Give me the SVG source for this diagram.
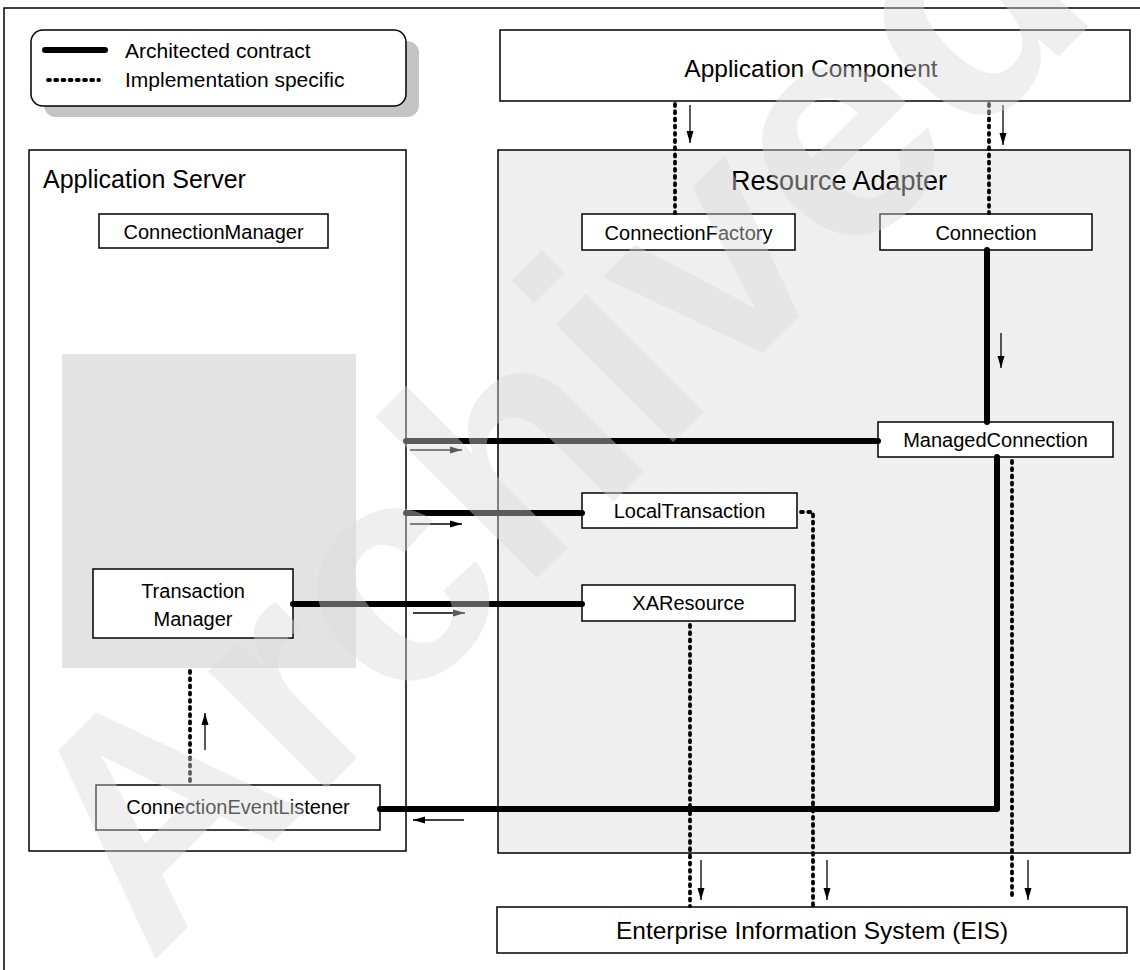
<svg xmlns="http://www.w3.org/2000/svg" width="1140" height="970" viewBox="0 0 1140 970">
  <defs>
    <style>
      .box { fill: #ffffff; stroke: #000000; stroke-width: 1.5; }
      .frame { fill: none; stroke: #000000; stroke-width: 1.5; }
      .lbl { font-family: "Liberation Sans", Arial, Helvetica, sans-serif; font-size: 20px; fill: #000000; text-anchor: middle; }
      .big { font-size: 24.5px; }
      .title { font-family: "Liberation Sans", Arial, Helvetica, sans-serif; fill: #000000; }
      .legend { font-family: "Liberation Sans", Arial, Helvetica, sans-serif; font-size: 21px; fill: #000000; }
      .thick { fill: none; stroke: #000000; stroke-width: 6; stroke-linecap: round; stroke-linejoin: round; }
      .dots { fill: none; stroke: #000000; stroke-width: 3.8; stroke-linecap: round; stroke-dasharray: 2 5.2; }
      .arrow { fill: none; stroke: #000000; stroke-width: 1.3; marker-end: url(#head); }
      .mark { font-family: "Liberation Sans", Arial, Helvetica, sans-serif; font-size: 315px; font-weight: bold; fill: #d9d9d9; fill-opacity: 0.42; }
    </style>
    <marker id="head" markerUnits="userSpaceOnUse" markerWidth="13" markerHeight="8" refX="12" refY="4" orient="auto">
      <path d="M0,0.5 L12,4 L0,7.5 Z" fill="#000000"/>
    </marker>
  </defs>

  <!-- page frame -->
  <path class="frame" d="M4,970 V8 H1140" stroke-width="2.5"/>

  <!-- legend -->
  <g id="legend">
    <rect x="44" y="41" width="375" height="76" rx="12" fill="#c4c4c4"/>
    <rect x="31" y="30" width="375" height="76" rx="12" class="box"/>
    <line x1="45" y1="50" x2="105" y2="50" class="thick" stroke-width="5"/>
    <line x1="48" y1="80" x2="99" y2="80" class="dots" stroke-width="3.4" stroke-dasharray="1.5 5"/>
    <text x="125" y="58" class="legend">Architected contract</text>
    <text x="125" y="87" class="legend">Implementation specific</text>
  </g>

  <!-- containers -->
  <g id="application-server">
    <rect x="29" y="150" width="377" height="701" class="box"/>
    <text x="43" y="188" class="title" font-size="25">Application Server</text>
  </g>
  <g id="resource-adapter">
    <rect x="498" y="150" width="632" height="703" fill="#efefef" stroke="#000000" stroke-width="1.5"/>
    <text x="839" y="190" class="title" font-size="27" text-anchor="middle" fill="#222222">Resource Adapter</text>
  </g>
  <g id="transaction-area">
    <rect x="62" y="354" width="294" height="314" fill="#e3e3e3"/>
  </g>

  <!-- nodes -->
  <g id="application-component">
    <rect x="500" y="30" width="630" height="71" class="box"/>
    <text x="811" y="77" class="lbl big">Application Component</text>
  </g>
  <g id="connection-manager">
    <rect x="99" y="214" width="229" height="34" class="box"/>
    <text x="213.5" y="238.5" class="lbl">ConnectionManager</text>
  </g>
  <g id="connection-factory">
    <rect x="582" y="214" width="213" height="36" class="box"/>
    <text x="688.5" y="239.5" class="lbl">ConnectionFactory</text>
  </g>
  <g id="connection">
    <rect x="880" y="214" width="212" height="36" class="box"/>
    <text x="986" y="239.5" class="lbl">Connection</text>
  </g>
  <g id="managed-connection">
    <rect x="878" y="422" width="235" height="35" class="box"/>
    <text x="995.5" y="446.5" class="lbl">ManagedConnection</text>
  </g>
  <g id="local-transaction">
    <rect x="582" y="493" width="215" height="35" class="box"/>
    <text x="689.5" y="517.5" class="lbl">LocalTransaction</text>
  </g>
  <g id="xa-resource">
    <rect x="582" y="585" width="213" height="36" class="box"/>
    <text x="688.5" y="610" class="lbl">XAResource</text>
  </g>
  <g id="transaction-manager">
    <rect x="93" y="569" width="200" height="69" class="box"/>
    <text x="193" y="598" class="lbl">Transaction</text>
    <text x="193" y="626" class="lbl">Manager</text>
  </g>
  <g id="connection-event-listener">
    <rect x="96" y="785" width="284" height="45" class="box"/>
    <text x="238" y="814" class="lbl">ConnectionEventListener</text>
  </g>
  <g id="eis">
    <rect x="497" y="907" width="630" height="46" class="box"/>
    <text x="812" y="938.5" class="lbl big">Enterprise Information System (EIS)</text>
  </g>

  <!-- connectors -->
  <g id="connectors">
    <!-- implementation specific -->
    <line x1="675" y1="104" x2="675" y2="213" class="dots"/>
    <line x1="989" y1="104" x2="989" y2="213" class="dots"/>
    <polyline points="801,512 813,512 813,906" class="dots"/>
    <line x1="690" y1="625" x2="690" y2="906" class="dots"/>
    <line x1="1012" y1="461" x2="1012" y2="900" class="dots"/>
    <line x1="190" y1="671" x2="190" y2="784" class="dots"/>

    <!-- architected contracts -->
    <line x1="987" y1="250" x2="987" y2="422" class="thick"/>
    <line x1="406" y1="441" x2="878" y2="441" class="thick"/>
    <line x1="406" y1="513" x2="582" y2="513" class="thick"/>
    <line x1="293" y1="604" x2="582" y2="604" class="thick"/>
    <polyline points="380,809 997,809 997,457" class="thick"/>

    <!-- direction arrows -->
    <line x1="690" y1="105" x2="690" y2="143" class="arrow"/>
    <line x1="1003" y1="105" x2="1003" y2="145" class="arrow"/>
    <line x1="1001" y1="333" x2="1001" y2="368" class="arrow"/>
    <line x1="410" y1="450" x2="462" y2="450" class="arrow"/>
    <line x1="410" y1="524" x2="462" y2="524" class="arrow"/>
    <line x1="413" y1="613" x2="465" y2="613" class="arrow"/>
    <line x1="464" y1="820" x2="413" y2="820" class="arrow"/>
    <line x1="205" y1="750" x2="205" y2="713" class="arrow"/>
    <line x1="701" y1="860" x2="701" y2="900" class="arrow"/>
    <line x1="827" y1="860" x2="827" y2="900" class="arrow"/>
    <line x1="1028" y1="860" x2="1028" y2="900" class="arrow"/>
  </g>

  <!-- archive stamp laid over the drawing -->
  <text class="mark" transform="translate(150,965) rotate(-45)">Archived</text>
</svg>
